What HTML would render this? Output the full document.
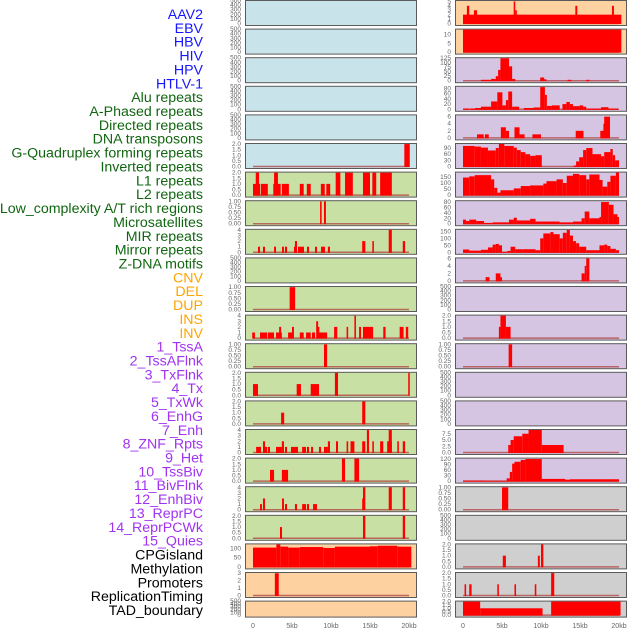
<!DOCTYPE html>
<html><head><meta charset="utf-8"><style>
html,body{margin:0;padding:0;background:#fff;}
svg{display:block;font-family:"Liberation Sans",sans-serif;}
</style></head><body>
<svg id="chart" width="630" height="630" viewBox="0 0 630 630"></svg>
<script>
const trackNames = ["AAV2","EBV","HBV","HIV","HPV","HTLV-1","Alu repeats","A-Phased repeats","Directed repeats","DNA transposons","G-Quadruplex forming repeats","Inverted repeats","L1 repeats","L2 repeats","Low_complexity A/T rich regions","Microsatellites","MIR repeats","Mirror repeats","Z-DNA motifs","CNV","DEL","DUP","INS","INV","1_TssA","2_TssAFlnk","3_TxFlnk","4_Tx","5_TxWk","6_EnhG","7_Enh","8_ZNF_Rpts","9_Het","10_TssBiv","11_BivFlnk","12_EnhBiv","13_ReprPC","14_ReprPCWk","15_Quies","CPGisland","Methylation","Promoters","ReplicationTiming","TAD_boundary"];
const trackGroups = ["v","v","v","v","v","v","r","r","r","r","r","r","r","r","r","r","r","r","r","s","s","s","s","s","c","c","c","c","c","c","c","c","c","c","c","c","c","c","c","e","e","e","e","e"];
const xTickLabels = ["0","5kb","10kb","15kb","20kb"];
const xTickValues = [0,5,10,15,20];

// panel data: [startKb, endKb, value]
const segsL6 = [[19.4,20.1,2]];
const segsL7 = [[0,0.9,1],[0.35,0.77,2],[1.0,1.9,1],[2.6,3.55,1],[2.7,3.2,2],[3.7,4.6,1],[6.0,6.5,1],[6.9,7.4,1],[8.7,9.2,1],[9.4,9.9,1],[10.6,11.2,2],[11.8,12.8,2],[14.1,15.0,2],[15.3,15.8,2],[16.3,17.8,2]];
const segsL8 = [[8.6,8.8,1],[9.1,9.35,1]];
const segsL9 = [[0.64,0.9,1],[1.28,1.54,1],[2.7,2.95,1],[3.72,3.97,1],[4.1,4.36,1],[5.25,5.64,1],[5.38,5.64,2],[5.77,6.54,1],[6.92,7.18,1],[7.95,8.2,1],[8.72,9.23,1],[9.6,9.87,1],[14.0,14.4,2],[15.3,15.5,2],[17.4,17.8,4],[19.2,19.5,2]];
const segsL11 = [[4.7,5.4,1]];
const segsL12 = [[-0.1,0.25,1],[0.9,1.8,1],[1.9,2.7,1],[2.95,3.7,1],[3.35,3.6,2],[4.5,5.0,1],[5.0,5.25,2],[6.0,6.5,1],[6.8,7.4,1],[7.56,7.95,1],[8.1,8.35,3],[8.2,8.5,2],[8.35,9.5,1],[10.4,10.8,2],[12.0,12.2,2],[13.0,13.2,4],[13.6,13.85,2],[14.1,15.4,2],[16.7,17.0,2],[18.8,19.3,2],[19.6,19.9,2]];
const segsL13 = [[9.1,9.5,1]];
const segsL14 = [[0,0.64,1],[5.6,6.15,1],[7.4,8.46,1],[10.5,10.9,2],[19.9,20.1,2]];
const segsL15 = [[3.6,4.0,1],[14.0,14.4,2]];
const segsL16 = [[0.4,1.03,1],[1.28,1.54,2],[1.54,1.8,1],[1.9,2.18,1],[2.95,3.7,1],[3.7,3.97,2],[4.1,4.36,1],[4.87,5.77,1],[6.3,6.8,1],[6.92,7.18,1],[7.44,7.7,1],[8.46,8.72,1],[9.1,9.6,1],[9.6,9.87,2],[10.64,10.9,2],[12.0,12.2,2],[12.5,13.0,2],[14.0,14.4,2],[14.6,14.87,4],[15.3,15.5,2],[16.3,16.7,2],[17.2,17.8,2],[17.4,17.8,4],[18.5,18.7,2],[19.2,19.5,2]];
const segsL17 = [[2.18,2.7,1],[3.7,4.5,1],[11.4,11.8,2],[13.0,13.6,2]];
const segsL18 = [[0.9,1.15,1],[1.28,1.54,2],[3.72,3.97,2],[4.1,4.36,1],[5.38,5.64,1],[6.3,6.8,1],[6.92,7.18,1],[7.7,8.2,1],[14.0,14.3,2],[14.1,14.4,4],[17.4,17.8,4],[19.2,19.5,4]];
const segsL19 = [[3.46,3.72,1],[14.1,14.4,2],[19.2,19.5,2]];
const segsL20 = [[0,3,105],[3,3.5,125],[3.5,4.5,110],[4.5,6,105],[6,9,108],[9,10.5,103],[10.5,15,110],[15,16,112],[16,18.5,115],[18.5,20.3,110]];
const segsL21 = [[2.8,3.3,3]];
const segsR1 = [[0,20.3,2],[0.5,0.8,4],[1.4,1.8,3],[6.5,6.7,5],[6.7,6.9,3],[14.4,14.65,4],[19.1,19.35,4]];
const segsR2 = [[0,20.3,13]];
const segsR3 = [[2.3,3.6,5],[3.6,4.2,10],[4.2,4.5,25],[4.5,4.8,60],[4.8,5.9,125],[5.9,6.3,80],[6.3,6.7,10],[9.9,10.4,18],[10.4,10.7,8],[13.4,13.9,5],[15.8,16.2,5]];
const segsR4 = [[0,0.8,3],[0.9,1.55,3],[1.55,2.3,5],[2.3,3.6,10],[3.6,4.4,30],[4.4,5.05,65],[5.05,5.5,15],[5.5,5.8,35],[5.8,6.3,68],[6.3,7.2,10],[7.8,9.05,5],[9.05,9.9,7],[9.9,10.5,85],[10.5,10.75,55],[10.75,11.4,13],[11.4,12.4,15],[12.75,13.25,20],[13.25,13.7,28],[13.7,14.1,20],[14.1,14.95,12],[14.95,15.4,15],[15.4,15.8,10],[15.8,17.7,3],[17.7,18.65,8],[18.65,19.9,3]];
const segsR5 = [[1.8,2.65,1],[2.8,3.3,1],[4.85,5.5,3],[5.5,5.9,2],[6.6,7.25,3],[7.25,7.9,1],[8.9,10.0,1],[14.45,15.45,2],[17.6,18.1,2],[18.0,18.3,4],[18.1,18.85,6]];
const segsR6 = [[0,1.5,100],[1.5,2.3,97],[2.3,3.2,92],[3.2,4.2,78],[4.2,4.6,90],[4.6,5.3,110],[5.3,6.5,100],[6.5,6.9,92],[6.9,7.4,80],[7.4,8,70],[8,8.6,60],[8.6,9.3,52],[9.3,10.1,55],[14.2,14.5,5],[14.5,14.9,25],[14.9,15.4,45],[15.4,15.8,80],[15.8,16.6,90],[16.6,17.7,60],[17.7,18.1,50],[18.1,18.9,70],[18.9,19.2,85],[19.2,19.5,55],[19.5,20,30]];
const segsR7 = [[0,0.8,145],[0.8,1.5,155],[1.5,3.6,165],[3.6,4,130],[4,4.4,60],[4.4,4.8,20],[4.8,6.5,40],[6.5,7.4,55],[7.4,8.6,75],[8.6,10.3,80],[10.3,10.7,95],[10.7,12,115],[12,12.8,130],[12.8,13.3,100],[13.3,14.1,160],[14.1,14.9,175],[14.9,15.8,165],[15.8,16.2,130],[16.2,17.5,170],[17.5,17.9,125],[17.9,18.5,70],[18.5,18.9,110],[18.9,19.6,160],[19.6,20,190]];
const segsR8 = [[0,0.4,15],[0.4,0.8,10],[0.8,1.7,15],[1.7,2.7,10],[2.7,3.8,3],[3.8,5.9,5],[5.9,6.5,15],[6.5,6.9,22],[6.9,8.6,12],[8.6,9.3,18],[9.3,12.4,8],[12.4,14.1,5],[14.1,15.2,8],[15.2,15.6,20],[15.6,16.2,45],[16.2,17.5,20],[17.5,17.7,25],[17.7,18.7,80],[18.7,19.3,70],[19.3,19.8,35],[19.8,20,25]];
const segsR9 = [[0,0.8,20],[0.8,2.3,12],[2.3,3.2,18],[3.2,3.8,35],[3.8,4.2,55],[4.2,4.6,60],[4.6,5,50],[5,5.7,3],[5.7,6.1,10],[6.1,6.7,40],[6.7,7.6,22],[7.6,9.3,22],[9.3,9.9,15],[9.9,10.3,100],[10.3,11.2,135],[11.2,11.6,145],[11.6,12.4,130],[12.4,12.8,100],[12.8,13.3,140],[13.3,13.7,160],[13.7,14.1,120],[14.1,14.5,80],[14.5,14.9,65],[14.9,15.8,40],[15.8,17.5,15],[17.5,18.1,50],[18.1,18.5,55],[18.5,18.9,45],[18.9,19.6,25],[19.6,20,15]];
const segsR10 = [[2.9,3.4,1],[4.2,4.8,2],[4.8,5.0,1],[15.2,15.6,2],[15.6,15.8,4],[15.8,16.2,6]];
const segsR12 = [[4.6,4.8,1],[4.8,5.5,2],[5.5,6.1,1]];
const segsR13 = [[5.85,6.3,1]];
const segsR16 = [[5.8,6.1,3],[6.1,6.5,5],[6.5,7.6,6.5],[7.6,8.4,7.5],[8.4,10.1,9],[10.1,12.9,3]];
const segsR17 = [[0,2.9,3],[2.9,5.6,2],[5.6,6,15],[6,6.3,50],[6.3,6.6,95],[6.6,7.4,105],[7.4,8,115],[8,10.1,120],[10.1,13.1,12],[13.1,13.7,8],[13.7,20,10]];
const segsR18 = [[5.0,5.8,1]];
const segsR20 = [[5.1,5.5,1],[9.6,9.85,1],[10.0,10.3,2]];
const segsR21 = [[0.2,0.4,1],[0.8,1.1,1],[4.4,4.6,1],[6.6,6.8,1],[9.2,9.4,1],[11.3,11.7,2]];
const segsR22 = [[0,2.2,2],[2.2,10.2,1],[11.3,20.2,2]];

const tk500 = ["0","100","200","300","400","500"];
const tk1 = ["0.00","0.25","0.50","0.75","1.00"];
const tk2 = ["0.0","0.5","1.0","1.5","2.0"];
const tk4 = ["0","1","2","3","4"];
const tk3 = ["0","1","2","3"];

const leftPanels = [
 [[],tk500,500,"b"],[[],tk500,500,"b"],[[],tk500,500,"b"],[[],tk500,500,"b"],[[],tk500,500,"b"],[segsL6,tk2,2.05,"b"],
 [segsL7,tk2,2.05,"g"],[segsL8,tk1,1.03,"g"],[segsL9,tk4,4.1,"g"],[[],tk500,500,"g"],[segsL11,tk1,1.03,"g"],[segsL12,tk4,4.1,"g"],
 [segsL13,tk1,1.03,"g"],[segsL14,tk2,2.05,"g"],[segsL15,tk2,2.05,"g"],[segsL16,tk4,4.1,"g"],[segsL17,tk2,2.05,"g"],[segsL18,tk4,4.1,"g"],[segsL19,tk2,2.05,"g"],
 [segsL20,["0","50","100"],125,"o"],[segsL21,tk3,3.1,"o"],[[],tk500,500,"o"]
];
const rightPanels = [
 [segsR1,["0","1","2","3","4","5"],5.2,"o"],[segsR2,["0","5","10"],13,"o"],
 [segsR3,["0","25","50","75","100","125"],128,"p"],[segsR4,["0","20","40","60","80"],88,"p"],[segsR5,["0","2","4","6"],6.5,"p"],
 [segsR6,["0","30","60","90"],112,"p"],[segsR7,["0","50","100","150"],190,"p"],[segsR8,["0","20","40","60","80"],85,"p"],
 [segsR9,["0","50","100","150"],165,"p"],[segsR10,["0","2","4","6"],6.1,"p"],[[],tk500,500,"p"],[segsR12,tk2,2.05,"p"],
 [segsR13,tk1,1.03,"p"],[[],tk500,500,"p"],[[],tk500,500,"p"],[segsR16,["0.0","2.5","5.0","7.5"],9.2,"p"],
 [segsR17,["0","30","60","90","120"],125,"p"],[segsR18,tk1,1.03,"e"],[[],tk500,500,"e"],[segsR20,tk2,2.05,"e"],[segsR21,tk2,2.05,"e"],[segsR22,tk2,2.05,"e"]
];

const NS="http://www.w3.org/2000/svg";
const svg=document.getElementById("chart");
const bgColors={b:"#c8e3ea",g:"#c8e0a3",o:"#fed1a1",p:"#d6c5e2",e:"#cfcfcf"};
const labelColors={v:"#1515ff",r:"#116611",s:"#ffa500",c:"#a133f0",e:"#000000"};
function mk(tag,attrs,parent){const e=document.createElementNS(NS,tag);for(const k in attrs)e.setAttribute(k,attrs[k]);(parent||svg).appendChild(e);return e;}

trackNames.forEach((n,i)=>{
  const t=mk("text",{x:203,y:15+i*13.86,"text-anchor":"end","dominant-baseline":"central","font-size":"14.2",fill:labelColors[trackGroups[i]]});
  
  
  t.textContent=n;
});

function drawColumn(panels,px,x0,tickX,col){
  const pw=171, kbpx=7.8;
  const xs=kb=>x0+kb*kbpx;
  panels.forEach((p,i)=>{
    const [segs,ticks,ymax,bg]=p;
    const T=i*28.6, H=(i===21)?16:25;
    const ys=v=>T+H-1.5-v/ymax*(H-2);
    const g=mk("g",{});
    
    
    const r=mk("rect",{x:px+0.5,y:T+0.5,width:pw,height:H,fill:bgColors[bg],stroke:"#5a5a5a","stroke-width":"1"},g);
    
    
    if(segs.length){
      const bl=mk("line",{x1:xs(0),x2:xs(20),y1:ys(0),y2:ys(0),stroke:"#b04a4a","stroke-width":"1.5","stroke-opacity":"0.8"},g);
      
      
    }
    segs.forEach(s=>{
      const x1=Math.max(px+1,xs(s[0])), x2=Math.min(px+pw,xs(s[1]));
      const y=Math.max(T+1,ys(s[2]));
      const b=mk("rect",{x:x1,y:y,width:Math.max(0.8,x2-x1),height:ys(0)-y+0.5,fill:"#ff0000"},g);
      
      
    });
    const n=ticks.length;
    ticks.forEach((lab,j)=>{
      const v=(j/(n-1))*parseFloat(ticks[n-1]);
      const t=mk("text",{x:tickX,y:ys(v)+2,"text-anchor":"end","font-size":"6.5",fill:"#666"},g);
      
      
      t.textContent=lab;
    });
  });
  xTickValues.forEach((v,j)=>{
    const t=mk("text",{x:xs(v),y:628,"text-anchor":"middle","font-size":"7",fill:"#666"});
    
    
    t.textContent=xTickLabels[j];
  });
}
drawColumn(leftPanels,245,253,241,"left-");
drawColumn(rightPanels,455,463,451,"right-");
</script>
</body></html>
